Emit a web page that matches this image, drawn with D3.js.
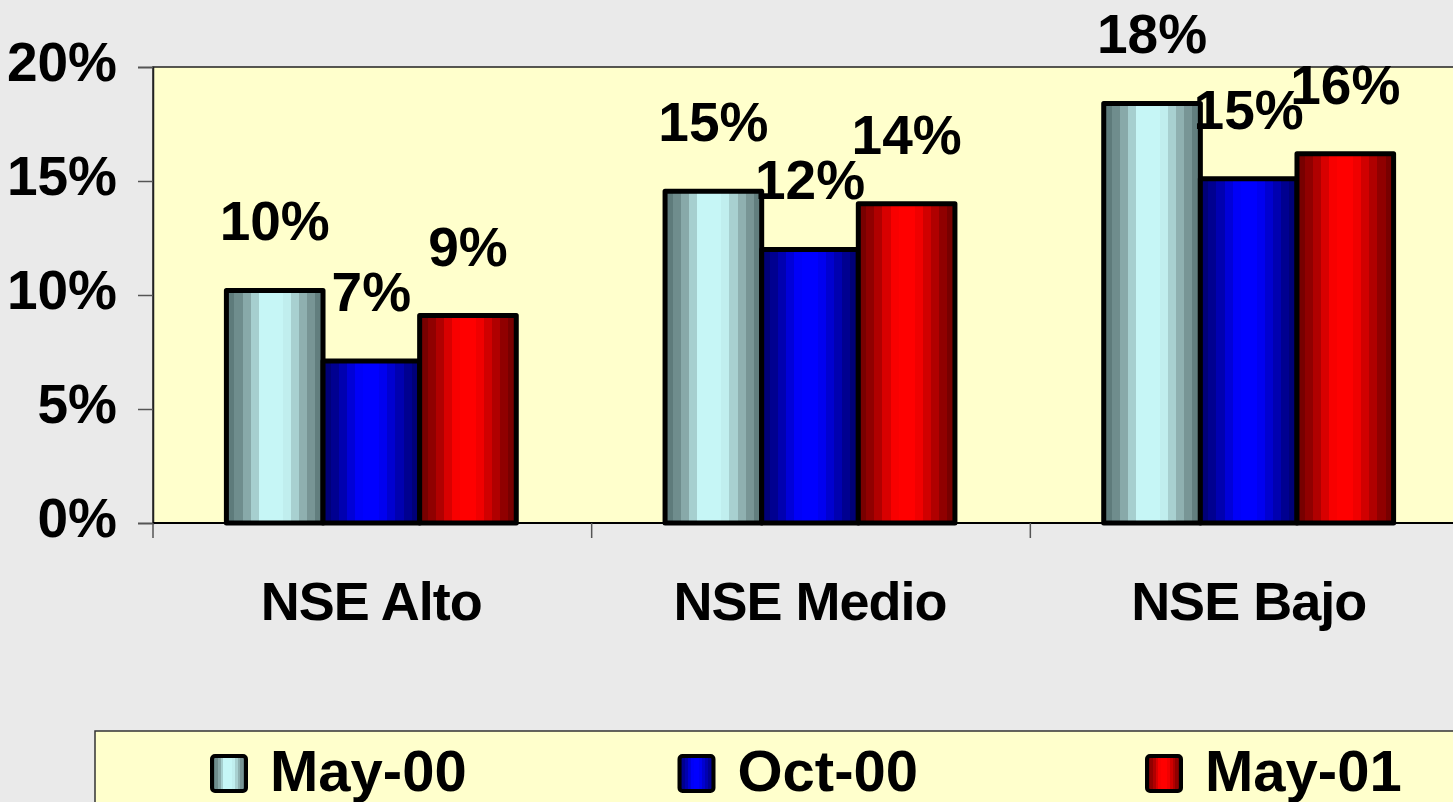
<!DOCTYPE html>
<html>
<head>
<meta charset="utf-8">
<script src="https://cdn.jsdelivr.net/npm/d3@7"></script>
<style>
  body { margin: 0; background: #eaeaea; }
  svg { display: block; font-family: "Liberation Sans", Arial, sans-serif; font-weight: bold; }
</style>
</head>
<body>
<svg id="chart" width="1453" height="802"></svg>
<script>
const categories = ['NSE Alto', 'NSE Medio', 'NSE Bajo']
const series = ['May-00', 'Oct-00', 'May-01']
const may00 = [0.102, 0.1455, 0.184]
const oct00 = [0.071, 0.120, 0.151]
const may01 = [0.091, 0.140, 0.162]
const yTicks = [0, 0.05, 0.10, 0.15, 0.20]

const values = [may00, oct00, may01]
const rows = []
categories.forEach((cat, ci) => {
  series.forEach((s, si) => rows.push({ cat: cat, series: s, value: values[si][ci] }))
})

const svg = d3.select('#chart')

// stepped fills, like the old office cylinder look
const grads = {
  'May-00': ['#5e7b7b', '#6f8d8d', '#88a9a9', '#a6cfcf', '#c6f6f6', '#c6f6f6', '#c6f6f6', '#c0eeee', '#a8d0d0', '#8fb0b0', '#789595', '#627e7e'],
  'Oct-00': ['#000078', '#000090', '#0000b0', '#0000d8', '#0000f8', '#0000ff', '#0000ff', '#0000f0', '#0000d0', '#0000b0', '#000090', '#000078'],
  'May-01': ['#780000', '#900000', '#b00000', '#d80000', '#f80000', '#ff0000', '#ff0000', '#f00000', '#d00000', '#b00000', '#900000', '#780000']
}
const defs = svg.append('defs')
series.forEach((s, i) => {
  const g = defs.append('linearGradient').attr('id', 'g' + i)
    .attr('x1', 0).attr('x2', 1).attr('y1', 0).attr('y2', 0)
  const cols = grads[s]
  cols.forEach((c, k) => {
    g.append('stop').attr('offset', (k / cols.length) * 100 + '%').attr('stop-color', c)
    g.append('stop').attr('offset', ((k + 1) / cols.length) * 100 + '%').attr('stop-color', c)
  })
})
const fillOf = s => `url(#g${series.indexOf(s)})`

const plotTop = 67
const plotBottom = 523
const plotLeft = 153

const xScale = d3.scaleBand()
  .domain(categories)
  .range([plotLeft - 1, 1468])
  .paddingInner(0)

const xInner = d3.scaleBand()
  .domain(series)
  .range([0, xScale.bandwidth()])
  .paddingInner(0)
  .paddingOuter(0.77)

const yScale = d3.scaleLinear()
  .domain([0, 0.20])
  .range([plotBottom, plotTop])

// plot area
svg.append('rect')
  .attr('x', plotLeft)
  .attr('y', plotTop)
  .attr('width', 1500)
  .attr('height', plotBottom - plotTop)
  .attr('fill', '#ffffcc')
  .attr('stroke', '#222')
  .attr('stroke-width', 1.5)

// bars
svg.append('g')
  .selectAll('rect')
  .data(rows)
  .enter()
  .append('rect')
  .attr('x', d => xScale(d.cat) + xInner(d.series))
  .attr('y', d => yScale(d.value))
  .attr('width', xInner.bandwidth())
  .attr('height', d => plotBottom - yScale(d.value))
  .attr('fill', d => fillOf(d.series))
  .attr('stroke', '#000')
  .attr('stroke-width', 5)
  .attr('stroke-linejoin', 'round')

// value labels
svg.append('g')
  .selectAll('text')
  .data(rows)
  .enter()
  .append('text')
  .attr('x', d => xScale(d.cat) + xInner(d.series) + xInner.bandwidth() / 2)
  .attr('y', d => yScale(d.value) - 50)
  .attr('text-anchor', 'middle')
  .attr('font-size', 55)
  .attr('fill', '#000')
  .text(d => d3.format('.0%')(d.value))

// y axis
const leftAxis = d3.axisLeft(yScale)
  .tickValues(yTicks)
  .tickFormat(d3.format('.0%'))
  .tickSize(15)
  .tickPadding(21)

const yAxis = svg.append('g')
  .attr('transform', `translate(${plotLeft}, 0)`)
  .call(leftAxis)
yAxis.select('.domain').attr('stroke', '#222').attr('stroke-width', 1.5)
yAxis.selectAll('.tick line').attr('stroke', '#555').attr('stroke-width', 1.5)
yAxis.selectAll('.tick text')
  .attr('font-size', 55)
  .attr('font-family', '"Liberation Sans", Arial, sans-serif')
  .attr('font-weight', 'bold')
  .attr('fill', '#000')
  .attr('dy', '0.25em')

// x axis
svg.append('line')
  .attr('x1', plotLeft).attr('x2', 1453)
  .attr('y1', plotBottom).attr('y2', plotBottom)
  .attr('stroke', '#000').attr('stroke-width', 2)

const edges = categories.map(c => xScale(c)).concat([xScale.range()[1]])
svg.append('g')
  .selectAll('line')
  .data(edges)
  .enter()
  .append('line')
  .attr('x1', d => d + 1).attr('x2', d => d + 1)
  .attr('y1', plotBottom).attr('y2', plotBottom + 15)
  .attr('stroke', '#555').attr('stroke-width', 1.5)

svg.append('g')
  .selectAll('text')
  .data(categories)
  .enter()
  .append('text')
  .attr('x', d => xScale(d) + xScale.bandwidth() / 2)
  .attr('y', 620)
  .attr('text-anchor', 'middle')
  .attr('font-size', 54)
  .attr('letter-spacing', -1)
  .attr('fill', '#000')
  .text(d => d)

// legend
svg.append('rect')
  .attr('x', 95)
  .attr('y', 731)
  .attr('width', 1500)
  .attr('height', 200)
  .attr('fill', '#ffffcc')
  .attr('stroke', '#333')
  .attr('stroke-width', 1.5)

const legendX = d3.scalePoint()
  .domain(series)
  .range([210, 1145])

const legendItem = svg.append('g')
  .selectAll('g')
  .data(series)
  .enter()
  .append('g')
  .attr('transform', d => `translate(${legendX(d)}, 0)`)

legendItem.append('rect')
  .attr('x', 2)
  .attr('y', 756)
  .attr('width', 34)
  .attr('height', 35)
  .attr('rx', 3)
  .attr('fill', d => fillOf(d))
  .attr('stroke', '#000')
  .attr('stroke-width', 4)

legendItem.append('text')
  .attr('x', 60)
  .attr('y', 791)
  .attr('font-size', 58)
  .attr('fill', '#000')
  .text(d => d)
</script>
</body>
</html>
